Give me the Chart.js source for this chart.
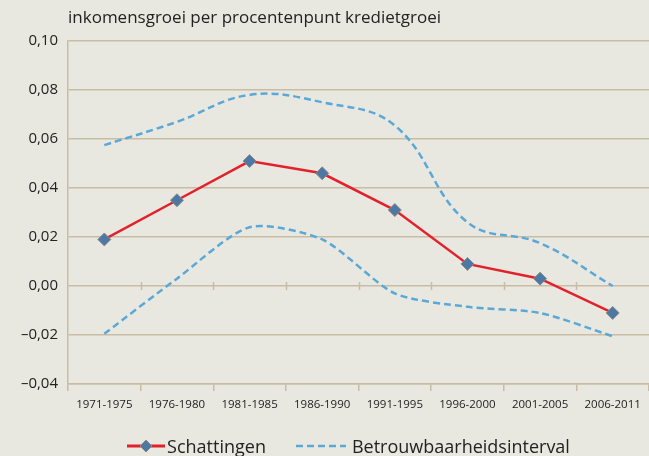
<!DOCTYPE html>
<html>
<head>
<meta charset="utf-8">
<script src="https://cdn.jsdelivr.net/npm/chart.js@4"></script>
<style>
  html, body { margin: 0; padding: 0; background: #e9e8e0; }
  #wrap { width: 649px; height: 456px; position: relative; overflow: hidden; }
  #legend {
    position: absolute; left: 48px; right: 0; top: 434px; height: 24px;
    display: flex; justify-content: center; align-items: center;
    font-family: 'Open Sans', 'Noto Sans', sans-serif; font-size: 18px; color: #222;
  }
  #legend .item { display: flex; align-items: center; }
  #legend .item + .item { margin-left: 30px; }
</style>
</head>
<body>
<div id="wrap">
  <canvas id="chart"></canvas>
  <div id="legend"></div>
</div>
<script>
const categories = ['1971-1975', '1976-1980', '1981-1985', '1986-1990', '1991-1995', '1996-2000', '2001-2005', '2006-2011'];
const schattingen = [0.019, 0.035, 0.051, 0.046, 0.031, 0.009, 0.003, -0.011];
const bovengrens = [0.0575, 0.067, 0.078, 0.075, 0.0655, 0.026, 0.0175, 0.000];
const ondergrens = [-0.0195, 0.003, 0.024, 0.019, -0.003, -0.0085, -0.011, -0.0205];
const yTicks = [-0.04, -0.02, 0, 0.02, 0.04, 0.06, 0.08, 0.10];
const titleText = 'inkomensgroei per procentenpunt kredietgroei';
const legendNames = ['Schattingen', 'Betrouwbaarheidsinterval'];

const RED = '#e3212b';
const BLUE = '#5aa8d8';
const GRID = '#c9bca5';
const TEXT = '#222222';
const FONT = "'Open Sans', 'Noto Sans', sans-serif";

function fmt(v) {
    const s = Math.abs(v).toFixed(2).replace('.', ',');
    return (v < -1e-9 ? '\u2013' : '') + s;
}

// legend swatches
function swatch(kind) {
    const c = document.createElement('canvas');
    c.height = 14;
    if (kind === 'est') {
        c.width = 38;
        c.style.marginRight = '2px';
        const g = c.getContext('2d');
        g.strokeStyle = RED; g.lineWidth = 3;
        g.beginPath(); g.moveTo(0, 7); g.lineTo(38, 7); g.stroke();
        g.fillStyle = '#4d78a3'; g.strokeStyle = '#8a8a8a'; g.lineWidth = 1;
        g.beginPath(); g.moveTo(19, 1); g.lineTo(25, 7); g.lineTo(19, 13); g.lineTo(13, 7); g.closePath();
        g.fill(); g.stroke();
    } else {
        c.width = 50;
        c.style.marginRight = '6px';
        const g = c.getContext('2d');
        g.strokeStyle = BLUE; g.lineWidth = 2.5; g.setLineDash([7, 4]);
        g.beginPath(); g.moveTo(0, 7); g.lineTo(50, 7); g.stroke();
    }
    return c;
}

const legendEl = document.getElementById('legend');
legendNames.forEach((name, i) => {
    const item = document.createElement('div');
    item.className = 'item';
    item.appendChild(swatch(i === 0 ? 'est' : 'ci'));
    const span = document.createElement('span');
    span.textContent = name;
    item.appendChild(span);
    legendEl.appendChild(item);
});

const titlePlugin = {
    id: 'titlePlugin',
    afterDraw(chart) {
        const ctx = chart.ctx;
        ctx.save();
        ctx.font = '17px ' + FONT;
        ctx.fillStyle = TEXT;
        ctx.textBaseline = 'middle';
        ctx.fillText(titleText, chart.chartArea.left, 18);
        ctx.restore();
    }
};

// small cross ticks on the zero line at category boundaries
const zeroTicks = {
    id: 'zeroTicks',
    beforeDatasetsDraw(chart) {
        const x = chart.scales.x, y = chart.scales.y;
        const y0 = y.getPixelForValue(0);
        const ctx = chart.ctx;
        ctx.save();
        ctx.strokeStyle = GRID; ctx.lineWidth = 1.5;
        for (let i = 1; i < categories.length; i++) {
            const px = Math.round((x.getPixelForValue(i - 1) + x.getPixelForValue(i)) / 2) + 0.5;
            ctx.beginPath(); ctx.moveTo(px, y0 - 4); ctx.lineTo(px, y0 + 4); ctx.stroke();
        }
        ctx.restore();
    }
};

new Chart(document.getElementById('chart'), {
    type: 'line',
    data: {
        labels: categories,
        datasets: [
            {
                label: legendNames[0],
                data: schattingen,
                borderColor: RED,
                borderWidth: 2.5,
                tension: 0,
                pointStyle: 'rectRot',
                pointRadius: 6.5,
                pointBackgroundColor: '#4d78a3',
                pointBorderColor: '#8a8a8a',
                pointBorderWidth: 1,
                order: 0
            },
            {
                label: legendNames[1],
                data: bovengrens,
                borderColor: BLUE,
                borderWidth: 2.5,
                borderDash: [7, 4],
                tension: 0.4,
                pointRadius: 0,
                order: 1
            },
            {
                label: 'ondergrens',
                data: ondergrens,
                borderColor: BLUE,
                borderWidth: 2.5,
                borderDash: [7, 4],
                tension: 0.25,
                pointRadius: 0,
                order: 1
            }
        ]
    },
    options: {
        responsive: true,
        maintainAspectRatio: false,
        animation: false,
        layout: { autoPadding: false, padding: { top: 41, right: 0, left: 0, bottom: 0 } },
        plugins: {
            title: { display: false },
            tooltip: { enabled: false },
            legend: { display: false }
        },
        scales: {
            x: {
                offset: true,
                afterFit: (axis) => { axis.height = 72; axis.paddingLeft = 0; axis.paddingRight = 0; },
                grid: { display: true, drawOnChartArea: false, drawTicks: true, tickLength: 7, offset: true, color: GRID, lineWidth: 1.5 },
                border: { color: GRID, width: 1.5 },
                ticks: { color: TEXT, font: { family: FONT, size: 11.5 }, padding: 7, maxRotation: 0, autoSkip: false }
            },
            y: {
                min: -0.04,
                max: 0.10,
                afterBuildTicks: (axis) => { axis.ticks = yTicks.map(v => ({ value: v })); },
                afterFit: (axis) => { axis.width = 68; },
                grid: { color: GRID, lineWidth: 1.5, drawTicks: false },
                border: { color: GRID, width: 1.5 },
                ticks: { color: TEXT, font: { family: FONT, size: 15 }, padding: 10, callback: v => fmt(v) }
            }
        }
    },
    plugins: [titlePlugin, zeroTicks]
});
</script>
</body>
</html>
